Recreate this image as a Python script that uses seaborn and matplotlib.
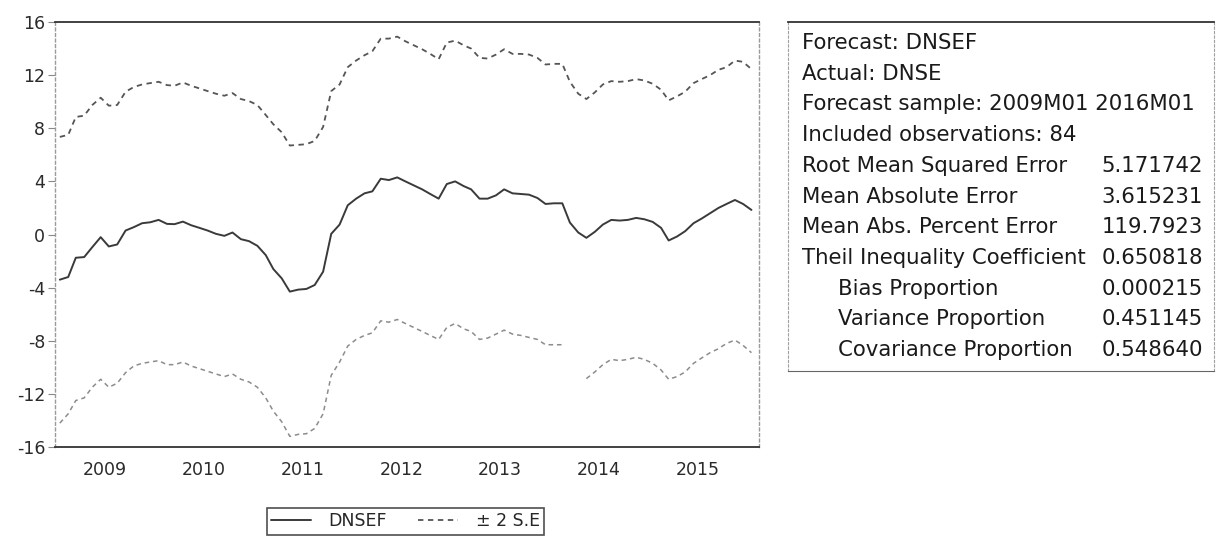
import numpy as np
import pandas as pd
import matplotlib
matplotlib.use("Agg")
import matplotlib.pyplot as plt
import seaborn as sns

# monthly forecast 2009M01 .. 2016M01
dates = pd.date_range("2009-01-01", "2016-01-01", freq="MS")

forecast = [-3.4, -3.2, -1.75, -1.7, -0.95, -0.2, -0.9, -0.75, 0.3, 0.55,
            0.85, 0.92, 1.1, 0.8, 0.78, 0.97, 0.7, 0.5, 0.3, 0.05,
            -0.1, 0.15, -0.35, -0.5, -0.85, -1.55, -2.6, -3.3, -4.3, -4.15,
            -4.1, -3.8, -2.8, 0.05, 0.75, 2.2, 2.7, 3.1, 3.25, 4.2,
            4.1, 4.3, 4.0, 3.7, 3.4, 3.05, 2.7, 3.8, 4.0, 3.65,
            3.4, 2.7, 2.7, 2.95, 3.4, 3.1, 3.05, 3.0, 2.75, 2.3,
            2.35, 2.35, 0.9, 0.15, -0.25, 0.2, 0.75, 1.1, 1.05, 1.1,
            1.25, 1.15, 0.95, 0.5, -0.45, -0.15, 0.25, 0.85, 1.2, 1.6,
            2.0, 2.3, 2.6, 2.3, 1.85]

upper = [7.35, 7.5, 8.85, 8.95, 9.75, 10.3, 9.7, 9.75, 10.75, 11.1,
         11.3, 11.4, 11.5, 11.25, 11.2, 11.45, 11.2, 11.0, 10.8, 10.6,
         10.45, 10.65, 10.2, 10.05, 9.75, 9.0, 8.3, 7.7, 6.7, 6.75,
         6.8, 7.05, 8.1, 10.8, 11.3, 12.6, 13.1, 13.5, 13.8, 14.75,
         14.75, 14.9, 14.55, 14.25, 13.95, 13.6, 13.2, 14.45, 14.6, 14.25,
         14.0, 13.3, 13.25, 13.55, 13.95, 13.6, 13.6, 13.55, 13.3, 12.8,
         12.85, 12.85, 11.5, 10.6, 10.2, 10.7, 11.3, 11.55, 11.5, 11.55,
         11.7, 11.6, 11.35, 10.9, 10.1, 10.4, 10.75, 11.4, 11.7, 12.0,
         12.4, 12.6, 13.1, 13.0, 12.45]

lower = [-14.2, -13.5, -12.5, -12.3, -11.5, -10.9, -11.5, -11.2, -10.4, -9.9,
         -9.7, -9.6, -9.5, -9.8, -9.8, -9.6, -9.9, -10.1, -10.3, -10.5,
         -10.7, -10.5, -10.9, -11.1, -11.5, -12.3, -13.3, -14.1, -15.2, -15.05,
         -15.0, -14.6, -13.5, -10.6, -9.6, -8.4, -7.9, -7.6, -7.4, -6.5,
         -6.6, -6.4, -6.7, -7.0, -7.3, -7.6, -7.9, -7.0, -6.7, -7.1,
         -7.3, -7.9, -7.8, -7.5, -7.2, -7.5, -7.6, -7.75, -7.9, -8.3,
         -8.3, -8.3, np.nan, np.nan, -10.85, -10.35, -9.8, -9.4, -9.5, -9.4,
         -9.25, -9.4, -9.7, -10.2, -10.9, -10.7, -10.35, -9.7, -9.3, -8.9,
         -8.6, -8.2, -7.95, -8.35, -8.9]

years = [2009, 2010, 2011, 2012, 2013, 2014, 2015]
yticks = [-16, -12, -8, -4, 0, 4, 8, 12, 16]

stats_labels = ["Root Mean Squared Error", "Mean Absolute Error",
                "Mean Abs. Percent Error", "Theil Inequality Coefficient",
                "Bias Proportion", "Variance Proportion", "Covariance Proportion"]
stats_values = ["5.171742", "3.615231", "119.7923", "0.650818",
                "0.000215", "0.451145", "0.548640"]
header_lines = ["Forecast: DNSEF", "Actual: DNSE",
                "Forecast sample: 2009M01 2016M01", "Included observations: 84"]

sns.set_style("white")
plt.rcParams['font.family'] = ['DejaVu Sans']

df = pd.DataFrame({"date": dates, "forecast": forecast,
                   "upper": upper, "lower": lower})
# the scanned lower band has a short break, keep it as two pieces
df["seg"] = df["lower"].isna().cumsum()

fig = plt.figure(figsize=(12.16, 5.37), dpi=100)
ax = fig.add_axes([0.0452, 0.1676, 0.579, 0.7914])

sns.lineplot(data=df, x="date", y="forecast", ax=ax, color="#3a3a3a",
             linewidth=1.4, label="DNSEF")
sns.lineplot(data=df, x="date", y="upper", ax=ax, color="#555555",
             linewidth=1.3, dashes=False, label="± 2 S.E",
             linestyle=(0, (3, 2.5)))
sns.lineplot(data=df.dropna(), x="date", y="lower", ax=ax, units="seg",
             estimator=None, color="#8c8c8c", linewidth=1.1,
             linestyle=(0, (3, 2.5)), legend=False)

ax.set_xlim(pd.Timestamp("2008-12-14"), pd.Timestamp("2016-01-29"))
ax.set_ylim(-16, 16)
ax.set_yticks(yticks)
ax.set_yticklabels([str(v) for v in yticks])
ax.set_xticks([pd.Timestamp(f"{y}-06-16") for y in years])
ax.set_xticklabels([str(y) for y in years])
ax.set_xlabel("")
ax.set_ylabel("")
ax.tick_params(axis="y", direction="out", length=5, width=0.8,
               color="#888888", labelsize=12.5, pad=2, left=True,
               labelcolor="#2a2a2a")
ax.tick_params(axis="x", length=0, labelsize=12.5, pad=10,
               labelcolor="#2a2a2a")

for side in ["top", "bottom"]:
    ax.spines[side].set_color("#333333")
    ax.spines[side].set_linewidth(1.3)
for side in ["left", "right"]:
    ax.spines[side].set_color("#9a9a9a")
    ax.spines[side].set_linewidth(1.0)
    ax.spines[side].set_linestyle((0, (2, 2)))

handles, labels = ax.get_legend_handles_labels()
ax.legend_.remove()
leg = fig.legend(handles, labels, loc="upper center", ncol=2,
                 bbox_to_anchor=(0.3335, 0.054), borderaxespad=0,
                 fontsize=12.5, frameon=True, fancybox=False,
                 handlelength=2.3, handletextpad=1.0, columnspacing=1.8,
                 borderpad=0.25)
leg.get_frame().set_edgecolor("#222222")
leg.get_frame().set_linewidth(1.2)

# statistics panel on the right
ax2 = fig.add_axes([0.648, 0.309, 0.3503, 0.65])
ax2.set_xlim(0, 1)
ax2.set_ylim(10.68, -0.68)
ax2.set_xticks([])
ax2.set_yticks([])
ax2.spines["top"].set_color("#333333")
ax2.spines["top"].set_linewidth(1.3)
ax2.spines["bottom"].set_color("#666666")
for side in ["left", "right"]:
    ax2.spines[side].set_color("#a0a0a0")
    ax2.spines[side].set_linestyle((0, (2, 2)))

fs = 15.3
for i, line in enumerate(header_lines):
    ax2.text(0.033, i, line, fontsize=fs, va="center", ha="left", color="#1a1a1a")
for j, (lab, val) in enumerate(zip(stats_labels, stats_values)):
    row = len(header_lines) + j
    x0 = 0.117 if j >= 4 else 0.033
    ax2.text(x0, row, lab, fontsize=fs, va="center", ha="left", color="#1a1a1a")
    ax2.text(0.974, row, val, fontsize=fs, va="center", ha="right", color="#1a1a1a")

fig.savefig("out.png", dpi=100)
